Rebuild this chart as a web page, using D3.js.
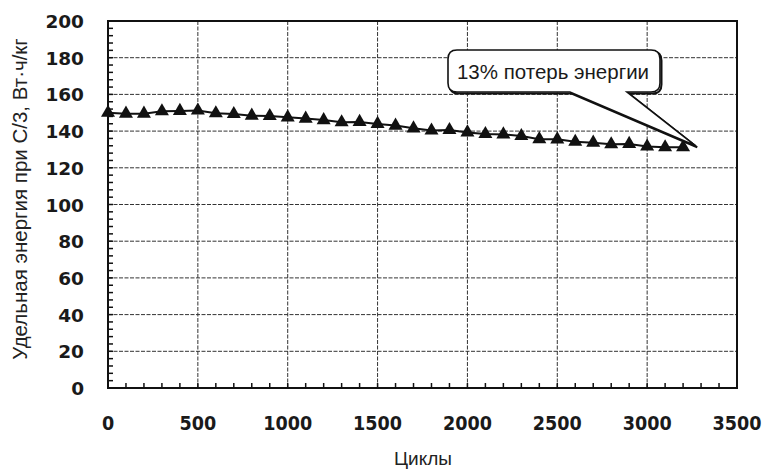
<!DOCTYPE html>
<html>
<head>
<meta charset="utf-8">
<title>Удельная энергия при C/3</title>
<style>
    body { margin: 0; background: #fff; }
    svg { display: block; }
</style>
</head>
<body>
<main></main>
<script src="https://cdn.jsdelivr.net/npm/d3@7"></script>
<script>
    // data ==============================
    var cycles = [0, 100, 200, 300, 400, 500, 600, 700, 800, 900, 1000,
        1100, 1200, 1300, 1400, 1500, 1600, 1700, 1800, 1900, 2000,
        2100, 2200, 2300, 2400, 2500, 2600, 2700, 2800, 2900, 3000, 3100, 3200];
    var energy = [150, 149.5, 149.5, 150.8, 151, 151.2, 149.7, 149.3, 148.4, 148.2, 147.5,
        146.8, 146, 144.8, 145, 143.9, 143, 141.5, 140.3, 140.6, 139.3,
        138.4, 138.2, 137.3, 135.6, 135.5, 134.2, 133.7, 132.8, 133, 131.6, 131.2, 131.2];
    var xTicks = [0, 500, 1000, 1500, 2000, 2500, 3000, 3500];
    var yTicks = [0, 20, 40, 60, 80, 100, 120, 140, 160, 180, 200];
    var calloutText = "13% потерь энергии";

    // layout ============================
    var width = 767, height = 470;
    var plot = {left: 108, right: 737, top: 21, bottom: 388};

    var svg = d3.select("main").append("svg")
        .attr("width", width)
        .attr("height", height);

    var x = d3.scaleLinear().domain([0, 3500]).range([plot.left, plot.right]);
    var y = d3.scaleLinear().domain([0, 200]).range([plot.bottom, plot.top]);

    // grid ==============================
    svg.append("g").selectAll("line")
        .data(yTicks.slice(1, -1))
        .enter().append("line")
        .attr("x1", plot.left).attr("x2", plot.right)
        .attr("y1", function (d) { return y(d); })
        .attr("y2", function (d) { return y(d); })
        .attr("stroke", "#333").attr("stroke-width", 1)
        .attr("stroke-dasharray", "4,1.5");

    svg.append("g").selectAll("line")
        .data(xTicks.slice(1, -1))
        .enter().append("line")
        .attr("y1", plot.top).attr("y2", plot.bottom)
        .attr("x1", function (d) { return x(d); })
        .attr("x2", function (d) { return x(d); })
        .attr("stroke", "#333").attr("stroke-width", 1)
        .attr("stroke-dasharray", "4,1.5");

    // minor ticks (inside) ==============
    svg.append("g").selectAll("line")
        .data(d3.range(0, 201, 4))
        .enter().append("line")
        .attr("x1", plot.left).attr("x2", plot.left + 5)
        .attr("y1", function (d) { return y(d); })
        .attr("y2", function (d) { return y(d); })
        .attr("stroke", "#111").attr("stroke-width", 1.5);

    svg.append("g").selectAll("line")
        .data(d3.range(0, 3501, 100))
        .enter().append("line")
        .attr("y1", plot.bottom).attr("y2", plot.bottom - 5)
        .attr("x1", function (d) { return x(d); })
        .attr("x2", function (d) { return x(d); })
        .attr("stroke", "#111").attr("stroke-width", 1.5);

    // frame =============================
    svg.append("rect")
        .attr("x", plot.left).attr("y", plot.top)
        .attr("width", plot.right - plot.left)
        .attr("height", plot.bottom - plot.top)
        .attr("fill", "none")
        .attr("stroke", "#111").attr("stroke-width", 2);

    // tick labels =======================
    svg.append("g").selectAll("text")
        .data(yTicks)
        .enter().append("text")
        .attr("x", 84)
        .attr("y", function (d) { return y(d) + 7; })
        .attr("text-anchor", "end")
        .attr("font-family", "DejaVu Sans")
        .attr("font-weight", "bold")
        .attr("font-size", "18.5px")
        .attr("fill", "#1a1a1a")
        .text(function (d) { return d; });

    svg.append("g").selectAll("text")
        .data(xTicks)
        .enter().append("text")
        .attr("transform", function (d) { return "translate(" + x(d) + ",430) scale(0.88,1)"; })
        .attr("text-anchor", "middle")
        .attr("font-family", "DejaVu Sans")
        .attr("font-weight", "bold")
        .attr("font-size", "20px")
        .attr("fill", "#1a1a1a")
        .text(function (d) { return d; });

    // axis titles =======================
    svg.append("text")
        .attr("x", 423).attr("y", 465)
        .attr("text-anchor", "middle")
        .attr("font-family", "Liberation Sans, Arial, sans-serif")
        .attr("font-size", "19px")
        .attr("fill", "#222")
        .text("Циклы");

    svg.append("text")
        .attr("transform", "translate(27,199) rotate(-90)")
        .attr("text-anchor", "middle")
        .attr("font-family", "Liberation Sans, Arial, sans-serif")
        .attr("font-size", "20.5px")
        .attr("fill", "#222")
        .text("Удельная энергия при С/3, Вт·ч/кг");

    // series ============================
    var points = cycles.map(function (c, i) { return [c, energy[i]]; });

    svg.append("path")
        .datum(points)
        .attr("fill", "none")
        .attr("stroke", "#111")
        .attr("stroke-width", 2)
        .attr("d", d3.line()
            .x(function (d) { return x(d[0]); })
            .y(function (d) { return y(d[1]); }));

    svg.append("g").selectAll("path")
        .data(points)
        .enter().append("path")
        .attr("transform", function (d) { return "translate(" + x(d[0]) + "," + y(d[1]) + ")"; })
        .attr("d", d3.symbol().type(d3.symbolTriangle).size(85))
        .attr("fill", "#111");

    // callout ===========================
    var tip = [x(3270), y(132)];
    var bx0 = 448, bx1 = 660, by0 = 50, by1 = 92, r = 9;
    var calloutPath = "M" + (bx0 + r) + "," + by0 +
        " H" + (bx1 - r) + " Q" + bx1 + "," + by0 + " " + bx1 + "," + (by0 + r) +
        " V" + (by1 - r) + " Q" + bx1 + "," + by1 + " " + (bx1 - r) + "," + by1 +
        " H627 L" + tip[0] + "," + tip[1] + " L570," + by1 +
        " H" + (bx0 + r) + " Q" + bx0 + "," + by1 + " " + bx0 + "," + (by1 - r) +
        " V" + (by0 + r) + " Q" + bx0 + "," + by0 + " " + (bx0 + r) + "," + by0 + " Z";

    svg.append("path")
        .attr("d", calloutPath)
        .attr("transform", "translate(1.5,1.5)")
        .attr("fill", "none")
        .attr("stroke", "#111").attr("stroke-width", 2);

    svg.append("path")
        .attr("d", calloutPath)
        .attr("fill", "#fff")
        .attr("stroke", "#111").attr("stroke-width", 1.6);

    svg.append("text")
        .attr("x", 553).attr("y", 79)
        .attr("text-anchor", "middle")
        .attr("font-family", "Liberation Sans, Arial, sans-serif")
        .attr("font-size", "20.5px")
        .attr("fill", "#1a1a1a")
        .text(calloutText);
</script>
</body>
</html>
